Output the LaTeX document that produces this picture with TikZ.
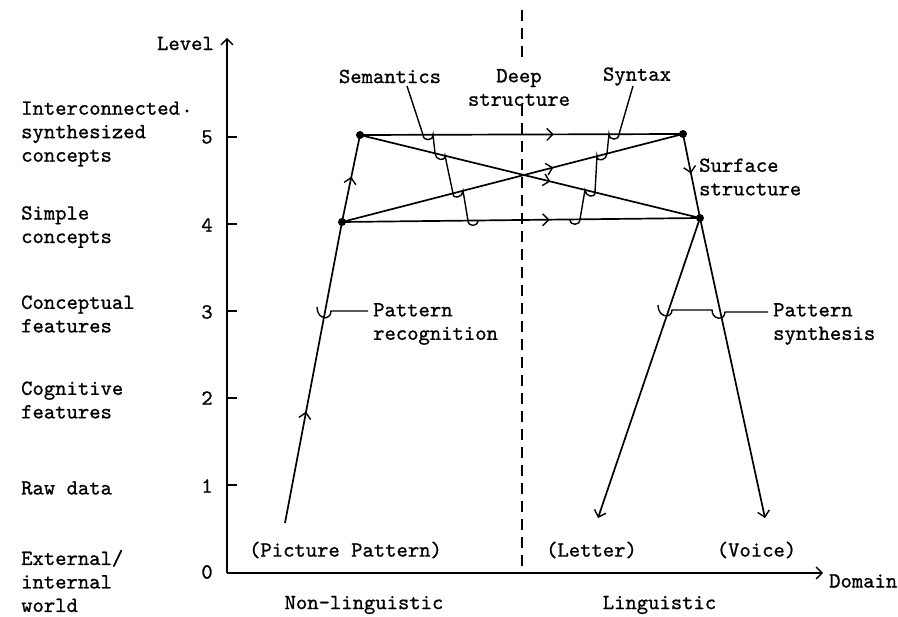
\documentclass[tikz,border=0pt]{standalone}
\usepackage{fontspec}
\setmainfont{lmmono10-regular.otf}[FakeBold=0.9]
\usetikzlibrary{arrows.meta,decorations.markings}
\begin{document}
\begin{tikzpicture}[x=1pt,y=-1pt,
  every node/.style={font=\fontsize{21.6}{23.5}\selectfont, inner sep=0pt},
  lbl/.style={align=left,anchor=west},
  ln/.style={line width=1.7pt},
  barb/.style={-{Straight Barb[length=6pt,width=12pt,line width=1.4pt]}},
  midarr/.style={postaction={decorate},decoration={markings,mark=at position #1 with {\arrow{Straight Barb[length=6pt,width=12pt,line width=1.4pt]}}}},
  dotnode/.style={circle,fill,inner sep=0pt,minimum size=8pt},
  cup/.style={to path={.. controls +(0,6.5) and +(0,6.5) .. (\tikztotarget)}},
  leader/.style={line width=1.4pt},
]
\useasboundingbox (0,0) rectangle (898,617);

% axes
\coordinate (O) at (227,573);
\coordinate (ytop) at (227,38);
\coordinate (xend) at (823,573);
\draw[ln,barb] (O) -- (ytop);
\draw[ln,barb] (O) -- (xend);
\foreach \yy in {137,224,311,398,485} \draw[ln] (227,\yy) -- (237,\yy);

\node[anchor=east] (level) at (214,43.5) {Level};
\node (n5) at (207,137) {5};
\node (n4) at (207,225) {4};
\node (n3) at (207,312) {3};
\node (n2) at (207,398) {2};
\node (n1) at (207,486) {1};
\node (n0) at (207,572) {0};
\node[anchor=west] (domain) at (829,581) {Domain};

% left labels
\node[lbl] (l5) at (21,134) {Interconnected\\synthesized\\concepts};
\fill (187,111) circle (1.6);
\node[lbl] (l4) at (21,227) {Simple\\concepts};
\node[lbl] (l3) at (21,314) {Conceptual\\features};
\node[lbl] (l2) at (21,400) {Cognitive\\features};
\node[lbl] (l1) at (21,488) {Raw data};
\node[lbl] (l0) at (21,581) {External/\\internal\\world};

% dashed divider
\coordinate (dA) at (522,10);
\coordinate (dB) at (522,62);
\coordinate (dC) at (522,105);
\coordinate (dD) at (522,573);
\draw[line width=1.5pt, dash pattern=on 11pt off 7pt] (dA) -- (dB);
\draw[line width=1.5pt, dash pattern=on 11pt off 7pt] (dC) -- (dD);

% bottom labels
\node (pp) at (345.5,550) {(Picture Pattern)};
\node (let) at (591.5,550) {(Letter)};
\node (voi) at (756.5,550) {(Voice)};
\node (nonl) at (364,605) {Non-linguistic};
\node (ling) at (659.5,605) {Linguistic};

% top labels
\node (sem) at (390,76.5) {Semantics};
\node[align=center] (deep) at (519,87.5) {Deep\\structure};
\node (syn) at (637,76.5) {Syntax};
\node[lbl] (surf) at (699,177) {Surface\\structure};
\node[lbl] (prec) at (373,324) {Pattern\\recognition};
\node[lbl] (psyn) at (773,324) {Pattern\\synthesis};

% main structure
\node[dotnode] (TL) at (360,135) {};
\node[dotnode] (TR) at (683,134) {};
\node[dotnode] (BL) at (342,222) {};
\node[dotnode] (BR) at (700,218) {};
\coordinate (PPs) at (285,523);
\coordinate (LT) at (598,518);
\coordinate (VT) at (765,518);

\draw[ln,midarr=0.37] (PPs) -- (BL.center);
\draw[ln,midarr=0.52] (BL.center) -- (TL.center);
\draw[ln,midarr=0.6] (TL.center) -- (TR.center);
\draw[ln,midarr=0.56] (TL.center) -- (BR.center);
\draw[ln,midarr=0.62] (BL.center) -- (TR.center);
\draw[ln,midarr=0.58] (BL.center) -- (BR.center);
\draw[ln,midarr=0.47] (TR.center) -- (BR.center);
\draw[ln,barb] (BR.center) -- (LT);
\draw[ln,barb] (BR.center) -- (VT);

% leaders with hooks
\draw[leader] (407,86) -- (423,134.8) to[cup] (433,134.8) -- (435,153.3) to[cup] (445,155.7)
  -- (453,193.4) to[cup] (463,190.8) -- (468,220.6) to[cup] (478,220.4);
\draw[leader] (633,86) -- (619,134.2) to[cup] (609,134.2) -- (607,153.6) to[cup] (597,156.2)
  -- (595,192.3) to[cup] (585,189.9) -- (580,219.3) to[cup] (570,219.5);
\draw[leader] (317,307) .. controls (317,320) and (331,321) .. (331,311) -- (368,311);
\draw[leader] (658,305) .. controls (658,318) and (672,319) .. (672,310) -- (712,310)
  .. controls (712,320) and (725,321) .. (725,312) -- (768,312);
\end{tikzpicture}
\end{document}
